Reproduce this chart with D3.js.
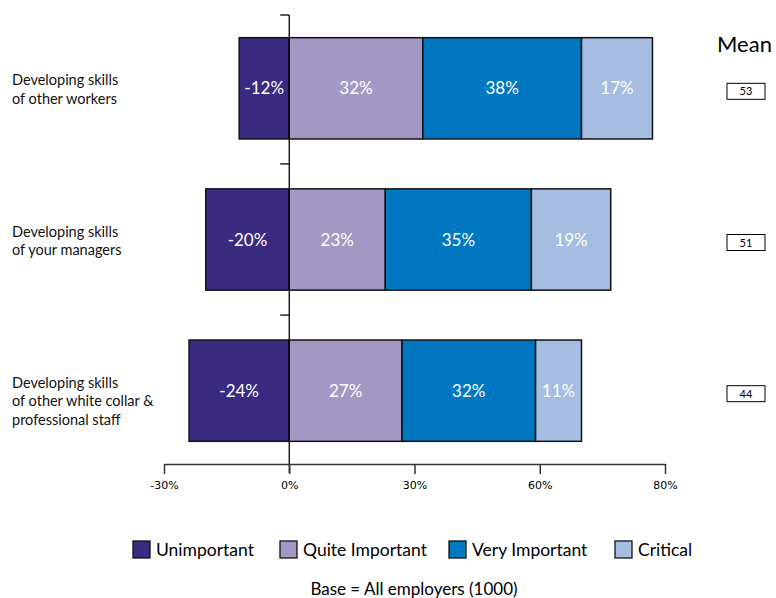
<!DOCTYPE html>
<html><head><meta charset="utf-8">
<script src="https://cdn.jsdelivr.net/npm/d3@7"></script>
<style>body{margin:0;background:#fff;} svg{display:block;}</style>
</head><body>
<script>
const categories = [
  ["Developing skills","of other workers"],
  ["Developing skills","of your managers"],
  ["Developing skills","of other white collar &","professional staff"]
];
const seriesNames = ["Unimportant","Quite Important","Very Important","Critical"];
const unimportant = [-12, -20, -24];
const quiteImportant = [32, 23, 27];
const veryImportant = [38, 35, 32];
const critical = [17, 19, 11];
const means = [53, 51, 44];
const tickValues = [-30, 0, 30, 60, 90];
const tickLabels = ["-30%", "0%", "30%", "60%", "80%"];
const colors = ["#3b2a82", "#a397c4", "#0078c1", "#a4bde1"];
const baseNote = "Base = All employers (1000)";

const W = 776, H = 598;
const svg = d3.select("body").append("svg").attr("width", W).attr("height", H);
const font = "Lato, 'Open Sans', sans-serif";

const x = d3.scaleLinear().domain([-30, 90]).range([164, 665]);
const y = d3.scaleBand().domain(d3.range(categories.length)).range([15, 464]).paddingInner(0.33).paddingOuter(0.15);

// bars
const rows = categories.map((c, i) => {
  const segs = [];
  segs.push({k: 0, x0: unimportant[i], x1: 0, v: unimportant[i]});
  let acc = 0;
  [quiteImportant, veryImportant, critical].forEach((arr, j) => {
    segs.push({k: j + 1, x0: acc, x1: acc + arr[i], v: arr[i]});
    acc += arr[i];
  });
  return {i, segs};
});

const g = svg.append("g");
rows.forEach(r => {
  const gg = g.append("g");
  gg.selectAll("rect").data(r.segs).join("rect")
    .attr("x", d => x(Math.min(d.x0, d.x1)))
    .attr("width", d => Math.abs(x(d.x1) - x(d.x0)))
    .attr("y", y(r.i)).attr("height", y.bandwidth())
    .attr("fill", d => colors[d.k]).attr("stroke", "#111").attr("stroke-width", 1.5);
  gg.selectAll("text").data(r.segs).join("text")
    .attr("x", d => (x(d.x0) + x(d.x1)) / 2)
    .attr("y", y(r.i) + y.bandwidth() / 2 + 6)
    .attr("text-anchor", "middle").attr("fill", "#fff")
    .style("font-family", font).style("font-size", "17px")
    .text(d => d.v + "%");
});

// vertical axis at 0
svg.append("line").attr("x1", x(0)).attr("x2", x(0)).attr("y1", 15).attr("y2", 473)
  .attr("stroke", "#000").attr("stroke-width", 1.3);
const bounds = [15].concat(d3.range(1, categories.length).map(i => y(i) - y.step() * y.paddingInner() / 2));
svg.selectAll(".ytick").data(bounds).join("line")
  .attr("x1", x(0) - 9).attr("x2", x(0)).attr("y1", d => d).attr("y2", d => d)
  .attr("stroke", "#000").attr("stroke-width", 1.3);

// horizontal axis
const xAxis = d3.axisBottom(x).tickValues(tickValues).tickSize(10).tickSizeOuter(0)
  .tickFormat((d, i) => tickLabels[i]);
const ax = svg.append("g").attr("transform", "translate(0,464)").call(xAxis);
ax.select(".domain").attr("stroke", "#333").attr("stroke-width", 1.5);
ax.selectAll(".tick line").attr("stroke", "#333").attr("stroke-width", 1.5);
ax.selectAll(".tick text").style("font-family", "'DejaVu Sans', sans-serif").style("font-size", "11px").attr("fill", "#000").attr("dy", "1.1em");

// category labels
categories.forEach((lines, i) => {
  const cy = y(i) + y.bandwidth() / 2;
  const lh = 18.5;
  const start = cy - 3;
  const t = svg.append("text").style("font-family", font).style("font-size", "14.5px").attr("fill", "#111");
  lines.forEach((l, k) => t.append("tspan").attr("x", 12).attr("y", start + k * lh).text(l));
});

// mean
svg.append("text").attr("x", 717).attr("y", 52).style("font-family", font).style("font-size", "22px").attr("fill", "#000").text("Mean");
means.forEach((m, i) => {
  const cy = y(i) + y.bandwidth() / 2 + 3;
  svg.append("rect").attr("x", 727).attr("y", cy - 8).attr("width", 38).attr("height", 16)
    .attr("fill", "#fff").attr("stroke", "#000").attr("stroke-width", 1);
  svg.append("text").attr("x", 746).attr("y", cy + 4).attr("text-anchor", "middle")
    .style("font-family", font).style("font-size", "11px").text(m);
});

// legend
const legX = [133, 280, 449, 615];
seriesNames.forEach((n, i) => {
  svg.append("rect").attr("x", legX[i]).attr("y", 541).attr("width", 17).attr("height", 17)
    .attr("fill", colors[i]).attr("stroke", "#111").attr("stroke-width", 1.3);
  svg.append("text").attr("x", legX[i] + 23).attr("y", 556).style("font-family", font).style("font-size", "17.5px")
    .attr("fill", "#000").text(n);
});
svg.append("text").attr("x", 414).attr("y", 595).attr("text-anchor", "middle")
  .style("font-family", font).style("font-size", "17px").attr("fill", "#000").text(baseNote);
</script>
</body></html>
